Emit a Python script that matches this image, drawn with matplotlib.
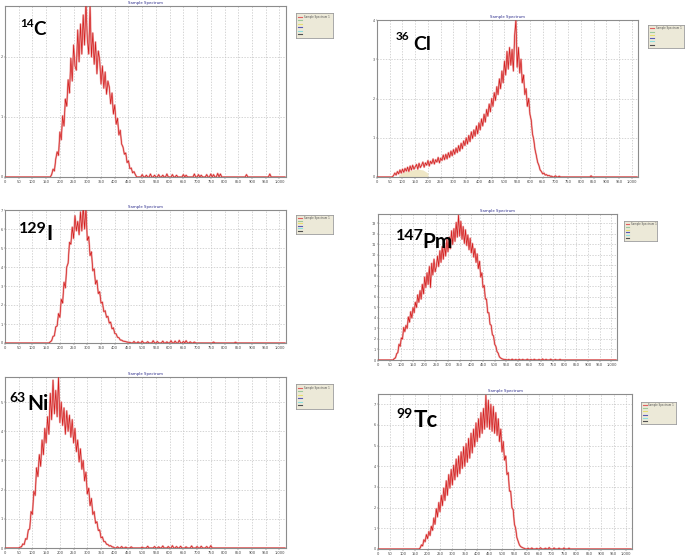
"""
Six beta spectra (counts vs channel) in a 3x2 grid, with a beige legend box next to each panel.
"""

import numpy as np
import matplotlib
matplotlib.use("Agg")
import matplotlib.pyplot as plt

# --- data (channel step 5) ---
STEP = 5
N_CHANNELS = 1024

C14_START = 165
C14_COUNTS = [0.0, 0.04, 0.13, 0.1, 0.3, 0.42, 0.36, 0.75, 0.62, 1.02, 0.85, 1.3, 1.18, 1.62, 1.4, 1.98,
              1.6, 2.2, 1.85, 1.78, 2.45, 1.92, 2.55, 2.05, 2.7, 2.2, 2.92, 2.3, 2.05, 2.85, 2.0, 2.4,
              1.88, 2.25, 1.72, 2.1, 1.95, 1.55, 1.85, 1.48, 1.75, 1.38, 1.6, 1.5, 1.22, 1.4, 1.05, 1.2,
              0.88, 0.98, 0.7, 0.78, 0.55, 0.5, 0.38, 0.4, 0.24, 0.27, 0.14, 0.15, 0.07, 0.09, 0.04, 0.0]
C14_BLIP_X = [500, 515, 530, 545, 560, 575, 590, 610, 625, 650, 660, 690, 705, 715, 735, 750, 760, 775, 785, 880, 965]
C14_BLIP_Y = [0.04, 0.03, 0.05, 0.03, 0.04, 0.03, 0.05, 0.04, 0.03, 0.04, 0.03, 0.05, 0.04, 0.03, 0.04, 0.05,
              0.04, 0.06, 0.05, 0.04, 0.05]

CL36_START = 60
CL36_COUNTS = [0.0, 0.04, 0.1, 0.05, 0.14, 0.08, 0.18, 0.1, 0.2, 0.12, 0.22, 0.15, 0.25, 0.14, 0.28, 0.18,
               0.3, 0.2, 0.26, 0.32, 0.2, 0.35, 0.24, 0.3, 0.38, 0.25, 0.36, 0.3, 0.42, 0.28, 0.4, 0.34,
               0.46, 0.33, 0.44, 0.38, 0.5, 0.36, 0.48, 0.42, 0.56, 0.44, 0.58, 0.46, 0.62, 0.5, 0.66, 0.54,
               0.7, 0.58, 0.74, 0.62, 0.8, 0.66, 0.86, 0.72, 0.92, 0.8, 1.0, 0.84, 1.06, 0.9, 1.15, 0.98,
               1.2, 1.04, 1.3, 1.1, 1.38, 1.2, 1.48, 1.3, 1.6, 1.4, 1.72, 1.55, 1.86, 1.66, 2.0, 1.8,
               2.15, 1.95, 2.3, 2.1, 2.5, 2.25, 2.7, 2.4, 2.95, 2.6, 3.2, 2.75, 3.3, 2.85, 3.25, 2.7,
               3.6, 4.0, 2.8, 3.3, 2.65, 3.0, 2.4, 2.6, 2.1, 2.25, 1.8, 2.0, 1.6, 1.45, 1.1, 0.95,
               0.7, 0.55, 0.38, 0.3, 0.18, 0.14, 0.08, 0.1, 0.05, 0.06, 0.03, 0.04, 0.02, 0.02, 0.0]
CL36_BLIP_X = [700, 715, 840]
CL36_BLIP_Y = [0.03, 0.02, 0.03]
CL36_FILL_X = [85, 100, 120, 140, 160, 180, 200]
CL36_FILL_Y = [0.05, 0.12, 0.16, 0.18, 0.2, 0.18, 0.1]

I129_START = 160
I129_COUNTS = [0.0, 0.06, 0.12, 0.35, 0.38, 0.85, 0.9, 1.55, 1.35, 2.3, 2.1, 3.2, 2.9, 4.0, 4.2, 5.3,
               5.2, 6.1, 5.5, 6.7, 5.9, 6.4, 5.7, 6.9, 5.9, 7.2, 6.0, 7.1, 5.4, 5.6, 4.6, 4.8,
               3.8, 3.9, 3.1, 3.3, 2.6, 2.7, 2.1, 2.15, 1.65, 1.7, 1.35, 1.4, 1.05, 1.1, 0.75, 0.8,
               0.5, 0.48, 0.3, 0.28, 0.16, 0.15, 0.1, 0.09, 0.07, 0.05, 0.04, 0.03, 0.0]
I129_BLIP_X = [470, 485, 500, 520, 540, 555, 575, 590, 605, 620, 635, 650, 660, 675, 690, 760, 840]
I129_BLIP_Y = [0.08, 0.06, 0.1, 0.07, 0.12, 0.08, 0.1, 0.06, 0.12, 0.1, 0.14, 0.08, 0.12, 0.06, 0.05, 0.05, 0.04]

PM147_START = 65
PM147_COUNTS = [0.0, 0.15, 0.2, 0.6, 0.7, 1.5, 1.3, 2.1, 2.0, 3.1, 2.7, 3.3, 3.0, 4.1, 3.6, 4.6,
                4.0, 5.0, 4.5, 5.5, 5.0, 6.2, 5.5, 6.6, 5.8, 7.2, 6.3, 7.9, 6.9, 8.3, 7.2, 8.9,
                6.9, 9.2, 8.1, 9.6, 8.4, 8.9, 9.9, 8.9, 10.4, 9.3, 10.8, 9.6, 11.1, 9.9, 11.5, 10.3,
                11.7, 10.6, 12.3, 11.0, 12.5, 11.3, 13.1, 11.7, 13.8, 11.8, 13.2, 11.5, 12.7, 11.1, 12.4, 10.9,
                11.9, 10.5, 11.6, 10.2, 11.1, 9.8, 10.6, 9.3, 10.1, 8.7, 9.4, 7.9, 8.3, 6.9, 7.1, 5.8,
                5.8, 4.5, 4.5, 3.4, 3.3, 2.4, 2.3, 1.5, 1.3, 0.8, 0.65, 0.3, 0.2, 0.12, 0.08, 0.05,
                0.04, 0.03, 0.0]
PM147_BLIP_X = [560, 575, 590, 605, 620, 640, 655, 670, 690, 705, 720, 740, 760, 780]
PM147_BLIP_Y = [0.05, 0.08, 0.05, 0.07, 0.06, 0.08, 0.05, 0.07, 0.05, 0.1, 0.06, 0.08, 0.05, 0.06]

NI63_START = 50
NI63_COUNTS = [0.0, 0.03, 0.04, 0.14, 0.12, 0.32, 0.3, 0.62, 0.65, 1.25, 1.15, 1.95, 1.8, 2.75, 2.45, 3.2,
               2.8, 3.7, 3.2, 4.1, 3.6, 4.5, 3.9, 5.3, 4.4, 5.75, 4.6, 5.4, 4.5, 5.85, 4.3, 5.0,
               4.2, 4.8, 3.9, 4.7, 4.0, 4.55, 3.8, 4.4, 3.6, 4.1, 3.3, 3.7, 2.95, 3.4, 2.7, 3.0,
               2.3, 2.6, 1.85, 2.05, 1.45, 1.7, 1.15, 1.25, 0.85, 0.9, 0.6, 0.62, 0.35, 0.38, 0.22, 0.22,
               0.13, 0.12, 0.07, 0.08, 0.04, 0.03, 0.0]
NI63_BLIP_X = [410, 425, 440, 460, 500, 520, 545, 560, 575, 595, 610, 625, 640, 660, 680, 700, 715, 735, 750]
NI63_BLIP_Y = [0.04, 0.05, 0.03, 0.04, 0.03, 0.06, 0.05, 0.04, 0.07, 0.05, 0.08, 0.05, 0.06, 0.04, 0.07, 0.05,
               0.06, 0.05, 0.08]

TC99_START = 165
TC99_COUNTS = [0.0, 0.05, 0.2, 0.15, 0.45, 0.35, 0.7, 0.5, 0.85, 0.65, 1.1, 0.9, 1.5, 1.2, 1.95, 1.55,
               2.25, 1.8, 2.6, 2.1, 2.95, 2.35, 3.3, 2.6, 3.6, 2.95, 3.85, 3.1, 4.05, 3.35, 4.35, 3.5,
               4.5, 3.65, 4.7, 3.9, 4.95, 4.0, 5.1, 4.2, 5.35, 4.4, 5.6, 4.65, 5.8, 4.95, 6.1, 5.2,
               6.3, 5.4, 6.6, 5.6, 6.8, 5.8, 7.45, 5.9, 7.2, 5.8, 7.0, 5.7, 6.9, 5.6, 6.6, 5.5,
               6.3, 5.2, 5.8, 4.7, 5.2, 4.3, 4.5, 3.6, 3.7, 2.8, 2.8, 2.0, 1.9, 1.2, 1.0, 0.55,
               0.38, 0.2, 0.12, 0.08, 0.05, 0.03, 0.0]
TC99_BLIP_X = [605, 620, 640, 655, 675, 690, 710, 730, 750, 770]
TC99_BLIP_Y = [0.04, 0.05, 0.03, 0.06, 0.04, 0.07, 0.05, 0.04, 0.05, 0.04]

X_TICKS = list(range(0, 1001, 50))
X_TICK_LABELS = [f"{v:,}" for v in X_TICKS]
LEGEND_COLORS = ["#e06060", "#9cc89c", "#e8e070", "#5a5ab4", "#8ee0e0", "#505050"]
LEGEND_TEXT = "Sample Spectrum 1"

# --- layout (pixels in a 685x556 figure) ---
W, H = 685, 556
RED = "#d41c1c"
PINK = "#eca8a8"
BEIGE = "#ece9d8"

PANELS = [
    dict(sup="14", elem="C", start=C14_START, counts=C14_COUNTS, bx=C14_BLIP_X, by=C14_BLIP_Y,
         ymax=2.85, ny=2, box=(5, 6, 286, 177), leg=(296, 13, 333, 38),
         sup_at=(20, 27, 8.5), elem_at=(33, 35, 13.5)),
    dict(sup="36", elem="Cl", start=CL36_START, counts=CL36_COUNTS, bx=CL36_BLIP_X, by=CL36_BLIP_Y,
         ymax=4.0, ny=4, box=(377, 20, 638, 177), leg=(648, 25, 684, 48),
         sup_at=(396, 40, 8.5), elem_at=(413, 50, 14)),
    dict(sup="129", elem="I", start=I129_START, counts=I129_COUNTS, bx=I129_BLIP_X, by=I129_BLIP_Y,
         ymax=7.0, ny=7, box=(5, 210, 286, 343), leg=(296, 215, 333, 234),
         sup_at=(19, 233, 11.5), elem_at=(46, 240, 15)),
    dict(sup="147", elem="Pm", start=PM147_START, counts=PM147_COUNTS, bx=PM147_BLIP_X, by=PM147_BLIP_Y,
         ymax=13.9, ny=13, box=(378, 214, 617, 360), leg=(624, 221, 657, 241),
         sup_at=(396, 240, 11.5), elem_at=(422, 248, 15)),
    dict(sup="63", elem="Ni", start=NI63_START, counts=NI63_COUNTS, bx=NI63_BLIP_X, by=NI63_BLIP_Y,
         ymax=5.86, ny=5, box=(5, 377, 286, 548), leg=(296, 384, 333, 409),
         sup_at=(9, 402, 10), elem_at=(27, 410, 15)),
    dict(sup="99", elem="Tc", start=TC99_START, counts=TC99_COUNTS, bx=TC99_BLIP_X, by=TC99_BLIP_Y,
         ymax=7.5, ny=7, box=(378, 394, 632, 549), leg=(641, 402, 676, 424),
         sup_at=(396, 418, 10), elem_at=(414, 427, 16)),
]


def px_rect(l, t, r, b):
    return [l / W, 1 - b / H, (r - l) / W, (b - t) / H]


def build_spectrum(start, counts, blip_x, blip_y):
    """Counts on the full channel grid (zero where nothing was recorded)."""
    x = np.arange(0, N_CHANNELS + 1, STEP)
    y = np.zeros_like(x, dtype=float)
    i0 = start // STEP
    y[i0:i0 + len(counts)] = counts
    for bx, byv in zip(blip_x, blip_y):
        y[bx // STEP] = byv
    return x, y


def draw_legend_box(fig, l, t, r, b):
    lax = fig.add_axes(px_rect(l, t, r, b))
    lax.set_facecolor(BEIGE)
    lax.set_xlim(0, 1)
    lax.set_ylim(0, 1)
    lax.set_xticks([])
    lax.set_yticks([])
    for s in lax.spines.values():
        s.set_color("#9a9a9a")
        s.set_linewidth(0.6)
    n = len(LEGEND_COLORS)
    for k, c in enumerate(LEGEND_COLORS):
        yy = 0.85 - k * 0.7 / (n - 1)
        lax.plot([0.05, 0.16], [yy, yy], color=c, lw=0.8)
    lax.text(0.21, 0.85, LEGEND_TEXT, fontsize=1.9, color="#555555", va="center", clip_on=True)


fig = plt.figure(figsize=(W / 100, H / 100), dpi=100)

for p in PANELS:
    ax = fig.add_axes(px_rect(*p["box"]))
    x, y = build_spectrum(p["start"], p["counts"], p["bx"], p["by"])
    ax.plot(x, y, color=PINK, lw=1.4, zorder=2)
    ax.plot(x, y, color=RED, lw=0.5, zorder=3)
    if p["elem"] == "Cl":
        ax.fill_between(CL36_FILL_X, 0, CL36_FILL_Y, color="#efe7c6", lw=0, zorder=1)

    ax.set_xlim(0, N_CHANNELS)
    ax.set_ylim(0, p["ymax"])
    ax.set_xticks(X_TICKS)
    ax.set_xticklabels(X_TICK_LABELS)
    ax.set_yticks(range(0, p["ny"] + 1))
    ax.tick_params(labelsize=2.6, length=1.2, width=0.3, pad=1.2, colors="#444444")
    ax.tick_params(axis="y", labelsize=2.4, length=0.8, pad=0.5)
    ax.grid(True, color="#c4c4c4", lw=0.5, linestyle=(0, (2, 2)))
    ax.set_axisbelow(True)
    for s in ax.spines.values():
        s.set_color("#8c8c8c")
        s.set_linewidth(0.8)
    ax.set_title("Sample Spectrum", fontsize=2.8, color="#2a2a8a", pad=1.5)

    sx, sy, ss = p["sup_at"]
    ex, ey, es = p["elem_at"]
    fig.text(sx / W, 1 - sy / H, p["sup"], fontsize=ss, fontweight="bold",
             family="Lato", va="baseline", ha="left")
    fig.text(ex / W, 1 - ey / H, p["elem"], fontsize=es, fontweight="bold",
             family="Lato", va="baseline", ha="left")

    draw_legend_box(fig, *p["leg"])

fig.savefig("out.png", dpi=100, facecolor="white")
plt.close(fig)
